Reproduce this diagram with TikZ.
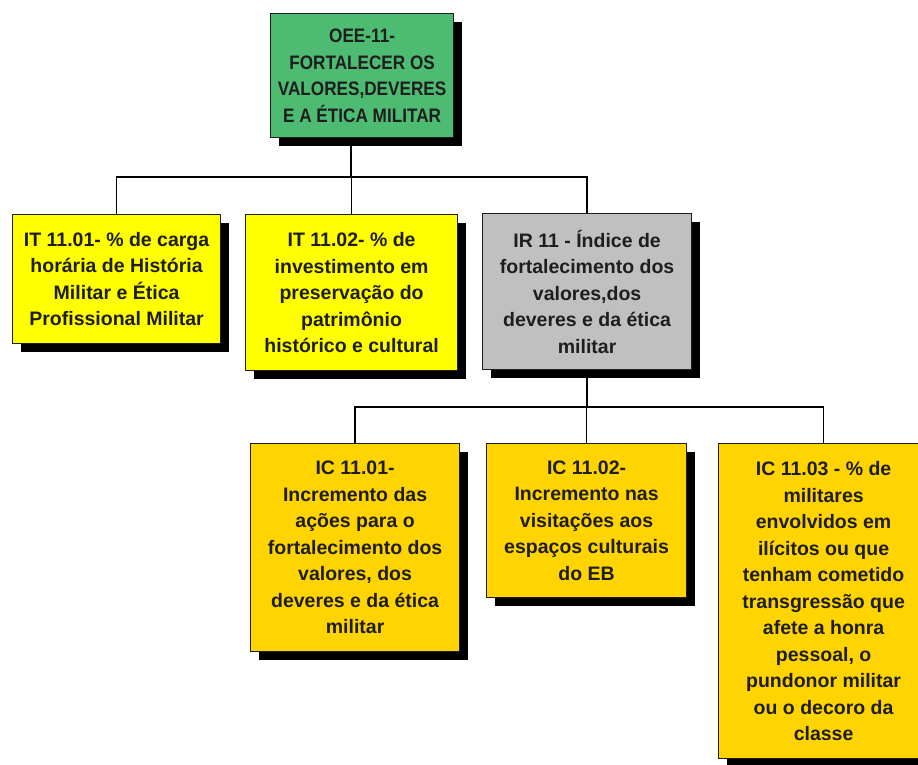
\documentclass[tikz,border=0pt]{standalone}
\usepackage{fontspec}
\setmainfont{Liberation Sans}
\newfontfamily\narrowsans[FakeStretch=0.88]{Liberation Sans}
\usepackage{xcolor}
\usetikzlibrary{shadows}
\definecolor{goalgreen}{HTML}{4DBB72}
\definecolor{tacyellow}{HTML}{FFFF00}
\definecolor{resgray}{HTML}{C0C0C0}
\definecolor{compgold}{HTML}{FFD400}
\definecolor{boxink}{HTML}{1E1E1E}

\begin{document}
\begin{tikzpicture}[
  x=1pt,
  y=-1pt,
  every node/.style={font=\bfseries\fontsize{19.5}{26.5}\selectfont, text=boxink},
  card/.style={draw=boxink, line width=1.2pt, anchor=north west, inner sep=0pt,
    align=center,
    drop shadow={shadow xshift=8pt, shadow yshift=-8pt, opacity=1, fill=black}},
  link/.style={black, line width=1.3pt}
]
  \useasboundingbox (0,0) rectangle (918,764);

  % ---- objective -------------------------------------------------------
  \node[card, fill=goalgreen, minimum width=183, minimum height=124,
    font=\bfseries\narrowsans\fontsize{19.5}{26.5}\selectfont] (oee) at (270,13)
    {OEE-11-\\FORTALECER OS\\VALORES,DEVERES\\E A ÉTICA MILITAR};

  % ---- first level -----------------------------------------------------
  \node[card, fill=tacyellow, minimum width=208, minimum height=129] (it1) at (12,214)
    {IT 11.01- \% de carga\\horária de História\\Militar e Ética\\Profissional Militar};
  \node[card, fill=tacyellow, minimum width=212, minimum height=156] (it2) at (245,214)
    {IT 11.02- \% de\\investimento em\\preservação do\\patrimônio\\histórico e cultural};
  \node[card, fill=resgray, minimum width=209, minimum height=156] (ir) at (482,213)
    {IR 11 - Índice de\\fortalecimento dos\\valores,dos\\deveres e da ética\\militar};

  % ---- second level ----------------------------------------------------
  \node[card, fill=compgold, minimum width=209, minimum height=208] (ic1) at (250,443)
    {IC 11.01-\\Incremento das\\ações para o\\fortalecimento dos\\valores, dos\\deveres e da ética\\militar};
  \node[card, fill=compgold, minimum width=200, minimum height=154] (ic2) at (486,443)
    {IC 11.02-\\Incremento nas\\visitações aos\\espaços culturais\\do EB};
  \node[card, fill=compgold, minimum width=210, minimum height=315] (ic3) at (718,443)
    {IC 11.03 - \% de\\militares\\envolvidos em\\ilícitos ou que\\tenham cometido\\transgressão que\\afete a honra\\pessoal, o\\pundonor militar\\ou o decoro da\\classe};

  % ---- connectors ------------------------------------------------------
  \coordinate (fork1) at (351,177);
  \coordinate (fork2) at (587,407);
  \draw[link] (fork1 |- oee.south) -- (fork1);
  \draw[link] (fork1) -| (it1.north);
  \draw[link] (fork1) -| (it2.north);
  \draw[link] (fork1) -| (ir.north);
  \draw[link] (fork2 |- ir.south) -- (fork2);
  \draw[link] (fork2) -| (ic1.north);
  \draw[link] (fork2) -| (ic2.north);
  \draw[link] (fork2) -| (ic3.north);
\end{tikzpicture}
\end{document}
